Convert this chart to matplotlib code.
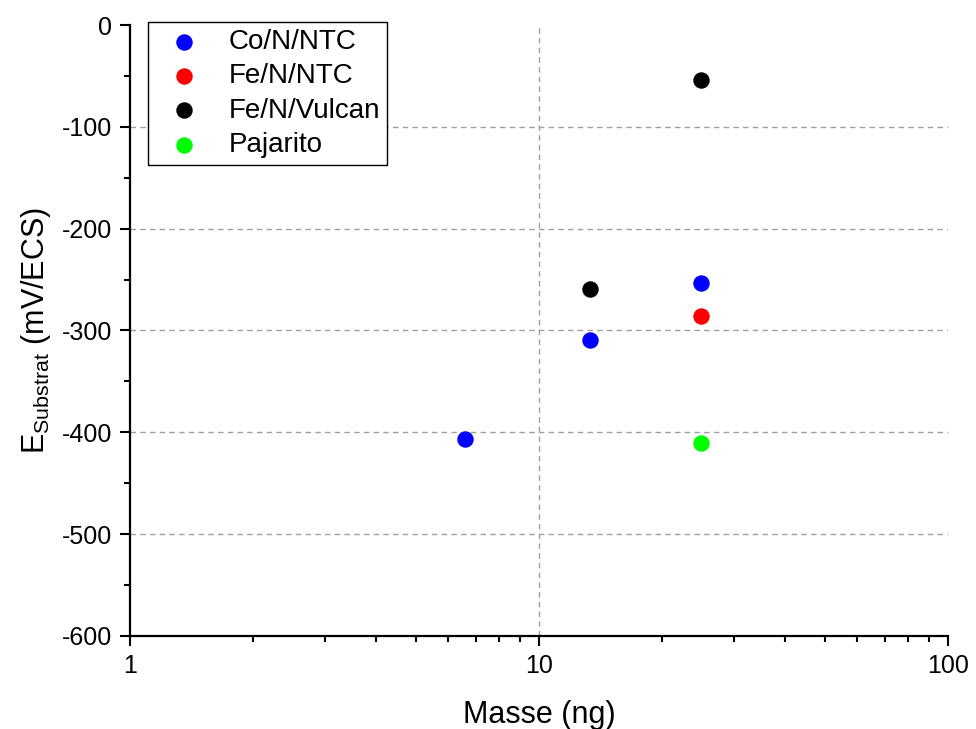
import matplotlib.pyplot as plt
from matplotlib.ticker import MultipleLocator, FixedLocator, FixedFormatter

plt.rcParams['font.family'] = ['Liberation Sans', 'DejaVu Sans']
plt.rcParams['axes.unicode_minus'] = False

# Values
co_mass = [6.6, 13.3, 24.9]
co_e = [-407, -309, -253]
fe_ntc_mass = [24.9]
fe_ntc_e = [-286]
fe_vulcan_mass = [13.3, 24.9]
fe_vulcan_e = [-259, -54]
pajarito_mass = [24.9]
pajarito_e = [-410]

fig = plt.figure(figsize=(9.76, 7.29), dpi=100)
ax = fig.add_axes([0.1332, 0.1276, 0.838, 0.8381])

ms = 140
ax.scatter(co_mass, co_e, s=ms, color='#0000ff', label='Co/N/NTC', zorder=3, linewidths=0)
ax.scatter(fe_ntc_mass, fe_ntc_e, s=ms, color='#ff0000', label='Fe/N/NTC', zorder=3, linewidths=0)
ax.scatter(fe_vulcan_mass, fe_vulcan_e, s=ms, color='#000000', label='Fe/N/Vulcan', zorder=3, linewidths=0)
ax.scatter(pajarito_mass, pajarito_e, s=ms, color='#00ff00', label='Pajarito', zorder=3, linewidths=0)

ax.set_xscale('log')
ax.set_xlim(1, 100)
ax.set_ylim(-600, 0)
ax.xaxis.set_major_locator(FixedLocator([1, 10, 100]))
ax.xaxis.set_major_formatter(FixedFormatter(['1', '10', '100']))
ax.yaxis.set_major_locator(MultipleLocator(100))
ax.yaxis.set_minor_locator(MultipleLocator(50))

# dashed grid lines, not on the axis edges
for xv in [10]:
    ax.axvline(xv, color='#a0a0a0', linestyle=(0, (4, 3)), linewidth=1, zorder=1)
for yv in [-100, -200, -300, -400, -500]:
    ax.axhline(yv, color='#a0a0a0', linestyle=(0, (4, 3)), linewidth=1, zorder=1)

ax.spines['top'].set_visible(False)
ax.spines['right'].set_visible(False)
for s in ['left', 'bottom']:
    ax.spines[s].set_linewidth(1.6)

ax.tick_params(which='major', direction='out', length=7, width=1.5, labelsize=18, pad=6)
ax.tick_params(which='minor', direction='out', length=4, width=1.5)

ax.set_xlabel('Masse (ng)', fontsize=22, labelpad=16)
ax.set_ylabel(r'E$_{\mathregular{Substrat}}$ (mV/ECS)', fontsize=22, labelpad=6)

leg = ax.legend(loc='upper left', bbox_to_anchor=(0.022, 1.005), borderaxespad=0,
                fontsize=20, frameon=True, fancybox=False, edgecolor='black',
                framealpha=1, handlelength=2.1, handletextpad=0.55, labelspacing=0.3,
                borderpad=0.25, scatterpoints=1)
leg.get_frame().set_linewidth(1.0)

fig.savefig('out.png', dpi=100)
